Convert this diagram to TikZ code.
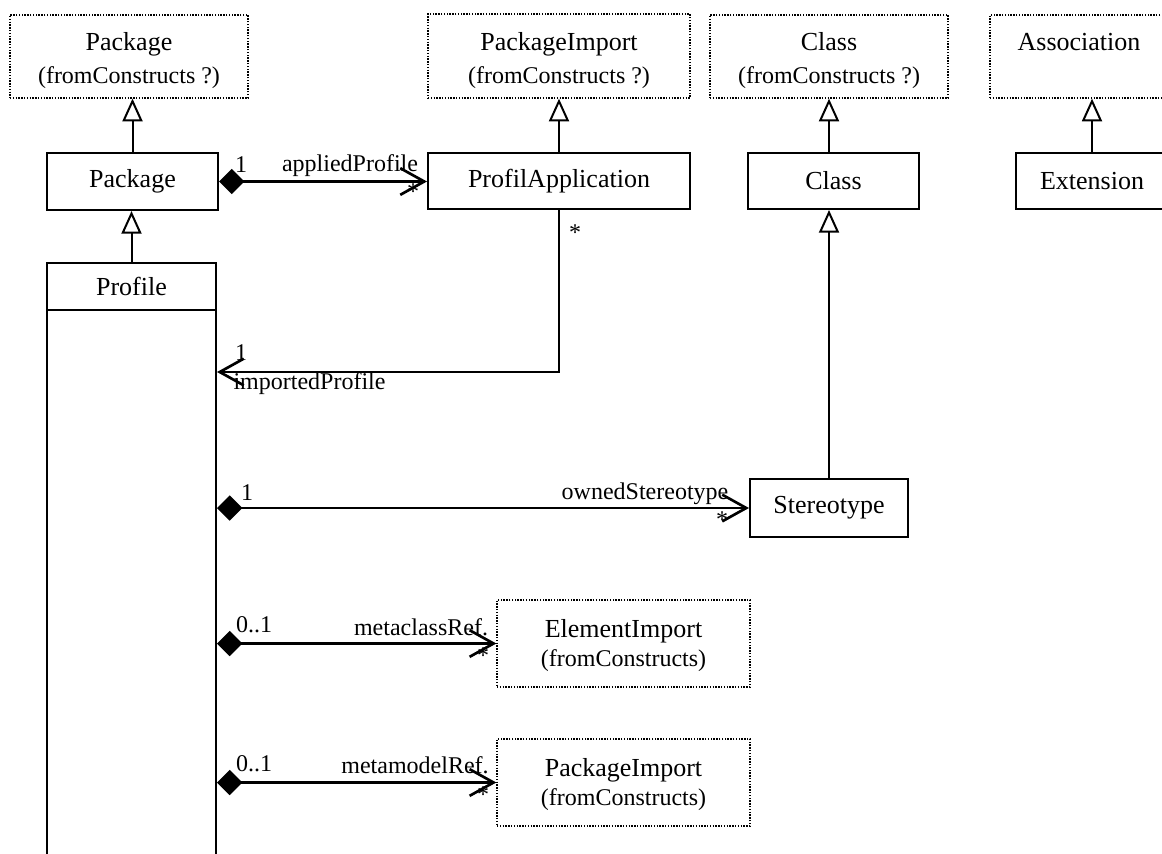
\documentclass[tikz,border=0pt]{standalone}
\usepackage{fontspec}
\setmainfont{Liberation Serif}
\usetikzlibrary{arrows.meta}
\newcommand{\subline}[1]{{\fontsize{18pt}{24.75pt}\selectfont #1}}
\begin{document}
\begin{tikzpicture}[x=0.75pt,y=-0.75pt,
  namefont/.style={font=\fontsize{19.5pt}{24.75pt}\selectfont},
  lbl/.style={font=\fontsize{18pt}{20pt}\selectfont, inner sep=0pt},
  classbox/.style={draw, line width=1.5pt, inner sep=0pt, align=center, namefont},
  metabox/.style={draw, line width=1pt, dash pattern=on 1pt off 1.1pt, inner sep=0pt, align=center, namefont},
  gen/.style={line width=1.5pt, -{Triangle[length=17pt, width=15pt, fill=white]}},
  assoc/.style={line width=2pt, -{Straight Barb[length=18pt, width=20pt]}},
  comp/.style={line width=2pt, {Diamond[length=19pt, width=19pt]}-{Straight Barb[length=18pt, width=20pt]}},
]
\useasboundingbox (0,0) rectangle (1162,853);
\clip (0,0) rectangle (1162,853);

% imported metaclasses (dotted)
\node[metabox, minimum width=178.5pt, minimum height=62.25pt] (pkgC) at (129,56.5)
  {\rule{0pt}{20pt}Package\\\subline{(fromConstructs ?)}};
\node[metabox, minimum width=196.5pt, minimum height=63pt] (piC) at (559,56)
  {\rule{0pt}{20pt}PackageImport\\\subline{(fromConstructs ?)}};
\node[metabox, minimum width=178.5pt, minimum height=62.25pt] (clsC) at (829,56.5)
  {\rule{0pt}{20pt}Class\\\subline{(fromConstructs ?)}};
\node[metabox, minimum width=133.5pt, minimum height=62.25pt] (asc) at (1079,56.5)
  {\rule{0pt}{20pt}Association\\\phantom{(f)}};

% profile metaclasses
\node[classbox, minimum width=128.25pt, minimum height=42.75pt] (pkg) at (132.5,181.5) {Package};
\node[classbox, minimum width=196.5pt, minimum height=42pt] (profApp) at (559,181) {ProfilApplication};
\node[classbox, minimum width=128.25pt, minimum height=42pt] (cls) at (833.5,181) {Class};
\node[classbox, minimum width=114pt, minimum height=42pt] (ext) at (1092,181) {Extension};
\node[classbox, minimum width=126.75pt, minimum height=35.25pt] (profile) at (131.5,286.5) {Profile};
\node[classbox, minimum width=126.75pt, minimum height=420pt] (profBody) at (131.5,590) {};
\node[classbox, minimum width=118.5pt, minimum height=43.5pt] (stereo) at (829,508) {Stereotype};
\node[metabox, font=\fontsize{19.5pt}{21.75pt}\selectfont, minimum width=189.75pt, minimum height=65.25pt] (elemImp) at (623.5,643.5)
  {\rule{0pt}{16pt}ElementImport\\{\fontsize{18pt}{21.75pt}\selectfont (fromConstructs)}};
\node[metabox, font=\fontsize{19.5pt}{21.75pt}\selectfont, minimum width=189.75pt, minimum height=65.25pt] (pkgImp) at (623.5,782.5)
  {\rule{0pt}{16pt}PackageImport\\{\fontsize{18pt}{21.75pt}\selectfont (fromConstructs)}};

% generalizations
\draw[gen] (pkg.north) -- (pkg.north |- pkgC.south);
\draw[gen] (profile.north) -- (profile.north |- pkg.south);
\draw[gen] (profApp.north) -- (piC.south);
\draw[gen] (clsC.south |- cls.north) -- (clsC.south);
\draw[gen] (ext.north) -- (ext.north |- asc.south);
\draw[gen] (stereo.north) -- (stereo.north |- cls.south);

% associations
\coordinate (bend) at (559,372);
\draw[comp] (pkg.east) -- (pkg.east -| profApp.west);
\draw[assoc] (profApp.south) |- (profBody.east |- bend);
\draw[comp] (profBody.east |- stereo.west) -- (stereo.west);
\draw[comp] (profBody.east |- elemImp.west) -- (elemImp.west);
\draw[comp] (profBody.east |- pkgImp.west) -- (pkgImp.west);

% role names and multiplicities
\node[lbl] (m1) at (241,165) {1};
\node[lbl] (r1) at (350,166) {appliedProfile};
\node[lbl] (m2) at (413,192) {*};
\node[lbl] (m3) at (575,233) {*};
\node[lbl] (m4) at (241,353) {1};
\node[lbl] (r2) at (309.5,384) {importedProfile};
\node[lbl] (m5) at (247,493) {1};
\node[lbl] (r3) at (645,494) {ownedStereotype};
\node[lbl] (m6) at (722,520) {*};
\node[lbl] (m7) at (254,625) {0..1};
\node[lbl] (r4) at (421,627) {metaclassRef.};
\node[lbl] (m8) at (483,656) {*};
\node[lbl] (m9) at (254,764) {0..1};
\node[lbl] (r5) at (415,765) {metamodelRef.};
\node[lbl] (m10) at (483,795) {*};
\end{tikzpicture}
\end{document}
